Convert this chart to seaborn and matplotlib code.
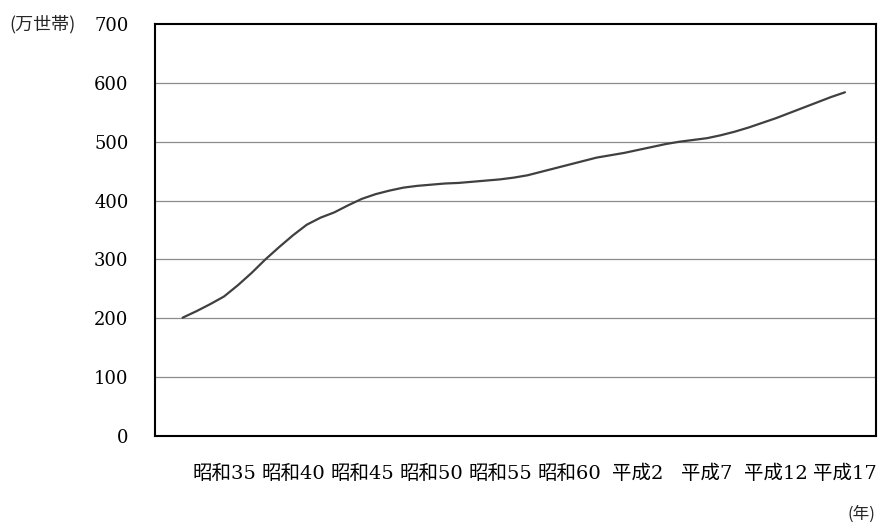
import matplotlib.pyplot as plt
import pandas as pd
import seaborn as sns

years = list(range(1957, 2006))
households = [201, 212, 224, 237, 256, 277, 300, 321, 341, 359,
              371, 380, 392, 403, 411, 417, 422, 425, 427, 429,
              430, 432, 434, 436, 439, 443, 449, 455, 461, 467,
              473, 477, 481, 486, 491, 496, 500, 503, 506, 511,
              517, 524, 532, 540, 549, 558, 567, 576, 584]
tick_years = [1960, 1965, 1970, 1975, 1980, 1985, 1990, 1995, 2000, 2005]
tick_labels = ["昭和35", "昭和40", "昭和45", "昭和50", "昭和55", "昭和60",
               "平成2", "平成7", "平成12", "平成17"]
y_ticks = [0, 100, 200, 300, 400, 500, 600, 700]

data = pd.DataFrame({"year": years, "households": households})

sns.set_style("white")
plt.rcParams['font.family'] = ['DejaVu Serif', 'Noto Sans CJK JP']
plt.rcParams['font.size'] = 13

fig = plt.figure(figsize=(8.82, 5.29), dpi=100)
ax = fig.add_axes([0.1757, 0.1758, 0.8175, 0.7788])

for y in y_ticks[1:-1]:
    ax.axhline(y, color="#8c8c8c", linewidth=0.9, zorder=1)

sns.lineplot(x="year", y="households", data=data, ax=ax,
             color="#404040", linewidth=1.6, zorder=3)

ax.set_xlim(1955, 2007.25)
ax.set_ylim(0, 700)
ax.set_yticks(y_ticks)
ax.set_xticks(tick_years)
ax.set_xticklabels(tick_labels, fontsize=14)
ax.set_xlabel("")
ax.set_ylabel("")
ax.tick_params(axis="y", direction="in", length=6, width=1.2, pad=19,
               colors="black")
ax.tick_params(axis="x", direction="in", length=6, width=1, pad=21,
               colors="black")
for s in ax.spines.values():
    s.set_color("black")
    s.set_linewidth(1.5)

fig.text(0.011, 0.955, "(万世帯)", ha="left", va="center", fontsize=13,
         family=['Noto Sans CJK JP', 'DejaVu Sans'])
fig.text(0.993, 0.028, "(年)", ha="right", va="center", fontsize=12,
         family=['Noto Sans CJK JP', 'DejaVu Sans'])

fig.savefig("out.png", dpi=100)
